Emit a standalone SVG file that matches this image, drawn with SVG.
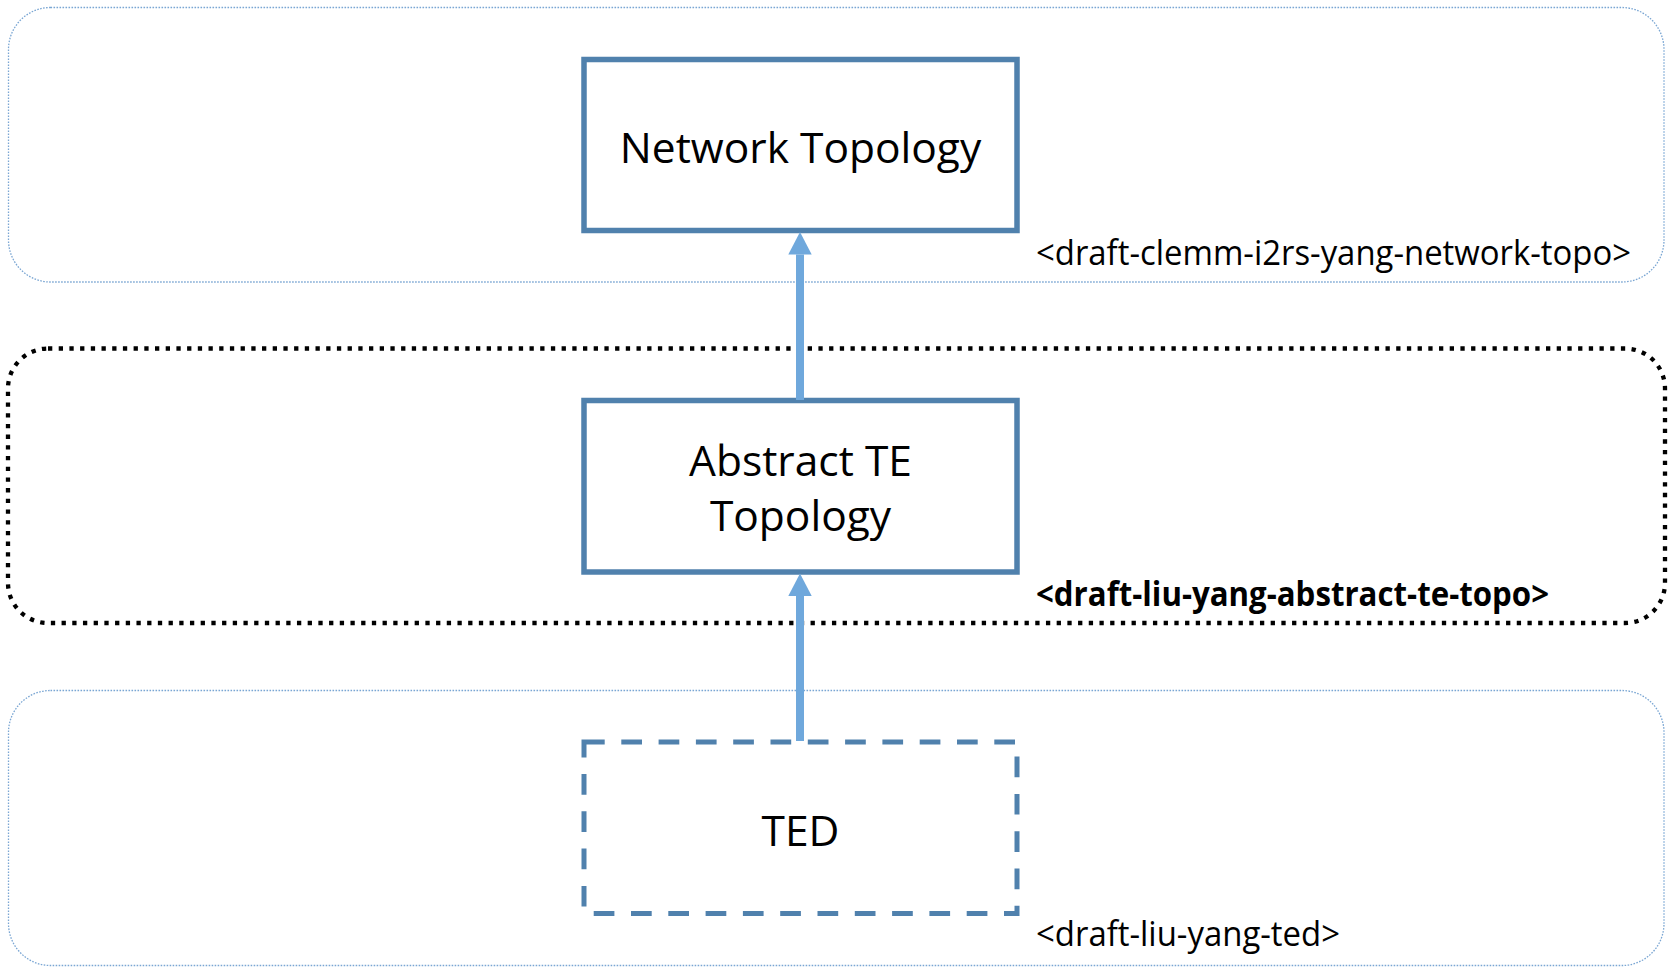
<svg xmlns="http://www.w3.org/2000/svg" width="1671" height="973" viewBox="0 0 1671 973">
  <style>
    .layer { fill: none; stroke: #7aa6d3; stroke-width: 1.3; stroke-dasharray: 1.6 1.4; }
    .layer-bold { fill: none; stroke: #000; stroke-width: 4.3; stroke-dasharray: 4.3 6.4; }
    .box { fill: #fff; stroke: #5081ad; stroke-width: 5.5; }
    .box-dash { fill: #fff; stroke: #5081ad; stroke-width: 5; stroke-dasharray: 20.7 16.6; }
    .name { font-family: "Open Sans", "Noto Sans", sans-serif; font-size: 42.5px; fill: #000; text-anchor: middle; }
    .ref { font-family: "Open Sans", "Noto Sans", sans-serif; font-size: 35px; fill: #000; }
    .ref-bold { font-family: "Open Sans", "Noto Sans", sans-serif; font-size: 34px; font-weight: bold; fill: #000; }
    .conn { stroke: #6fa8dc; stroke-width: 8; fill: none; }
  </style>
  <defs>
    <marker id="arrow" viewBox="0 0 23 24" markerWidth="23" markerHeight="24" refX="0" refY="11.7" orient="auto" markerUnits="userSpaceOnUse" overflow="visible">
      <path d="M0,0 L22.6,11.7 L0,23.4 Z" fill="#6fa8dc"/>
    </marker>
  </defs>
  <rect width="1671" height="973" fill="#fff"/>

  <g id="layer-network">
    <rect class="layer" x="8.5" y="7.5" width="1655.5" height="274.5" rx="42" ry="42"/>
    <text class="ref" x="1036" y="265" textLength="595" lengthAdjust="spacingAndGlyphs">&lt;draft-clemm-i2rs-yang-network-topo&gt;</text>
  </g>
  <g id="layer-abstract">
    <rect class="layer-bold" x="8" y="348.5" width="1657" height="274.5" rx="40" ry="40"/>
    <text class="ref-bold" x="1036" y="606" textLength="513" lengthAdjust="spacingAndGlyphs">&lt;draft-liu-yang-abstract-te-topo&gt;</text>
  </g>
  <g id="layer-ted">
    <rect class="layer" x="8.5" y="690.5" width="1655.5" height="275" rx="42" ry="42"/>
    <text class="ref" x="1036" y="946" textLength="304" lengthAdjust="spacingAndGlyphs">&lt;draft-liu-yang-ted&gt;</text>
  </g>

  <g id="node-network-topology">
    <rect class="box" x="584" y="59.5" width="433" height="171"/>
    <text class="name" x="800.5" y="163">Network Topology</text>
  </g>
  <g id="node-abstract-te-topology">
    <rect class="box" x="584" y="400.5" width="433" height="171.5"/>
    <text class="name" x="800.5" y="476">Abstract TE</text>
    <text class="name" x="800.5" y="531">Topology</text>
  </g>
  <g id="node-ted">
    <rect class="box-dash" x="584" y="742" width="433" height="171.5"/>
    <text class="name" x="800.5" y="846">TED</text>
  </g>

  <g id="connectors">
    <line class="conn" x1="800" y1="400" x2="800" y2="254.5" marker-end="url(#arrow)"/>
    <line class="conn" x1="800" y1="741" x2="800" y2="596" marker-end="url(#arrow)"/>
  </g>
</svg>
